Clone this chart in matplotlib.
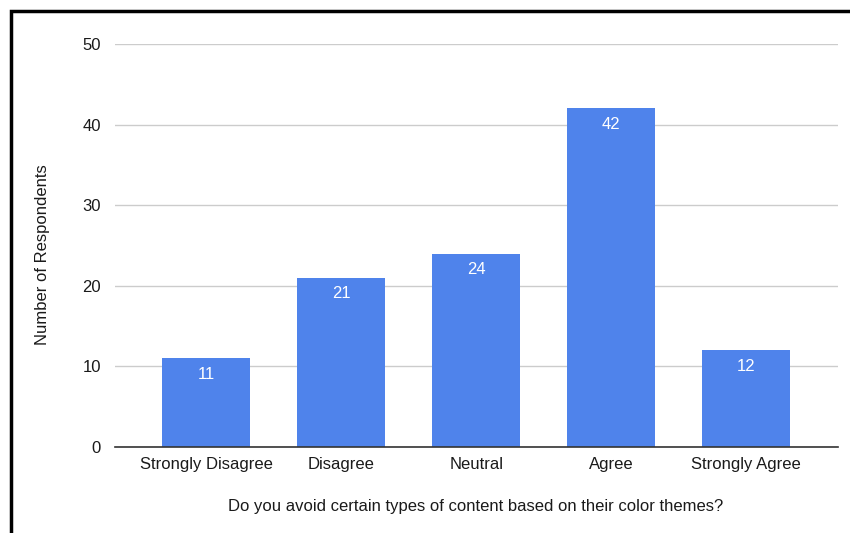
import matplotlib
matplotlib.use("Agg")
import matplotlib.pyplot as plt
import matplotlib.lines as lines

plt.rcParams['font.family'] = ['Liberation Sans', 'DejaVu Sans']

categories = ["Strongly Disagree", "Disagree", "Neutral", "Agree", "Strongly Agree"]
respondents = [11, 21, 24, 42, 12]
y_ticks = [0, 10, 20, 30, 40, 50]

bar_color = '#4f83eb'
text_color = '#1a1a1a'

fig = plt.figure(figsize=(8.5, 5.33), dpi=100)
W, H = 850, 533
# plot area in pixels: left 115, right 838, top 44 (50), bottom 447 (0)
ax = fig.add_axes([115 / W, 1 - 447 / H, (838 - 115) / W, (447 - 44) / H])

x = list(range(len(categories)))
bars = ax.bar(x, respondents, width=0.65, color=bar_color, zorder=3)

for rect, val in zip(bars, respondents):
    ax.annotate(str(val), (rect.get_x() + rect.get_width() / 2, rect.get_height()),
                xytext=(0, -16), textcoords='offset pixels',
                ha='center', va='center', color='white', fontsize=12, zorder=4)

ax.set_xlim(-0.675, len(categories) - 1 + 0.68)
ax.set_ylim(0, 50)
ax.set_yticks(y_ticks)
ax.set_xticks(x)
ax.set_xticklabels(categories)
ax.grid(axis='y', color='#cccccc', linewidth=1, zorder=0)
for side in ['top', 'right', 'left']:
    ax.spines[side].set_visible(False)
ax.spines['bottom'].set_color('#333333')
ax.spines['bottom'].set_linewidth(1.2)
ax.spines['bottom'].set_zorder(5)
ax.tick_params(axis='both', length=0, labelsize=12, labelcolor=text_color)
ax.tick_params(axis='y', pad=10)
ax.tick_params(axis='x', pad=7)

ax.set_ylabel("Number of Respondents", fontsize=12, color=text_color, va='center')
ax.yaxis.set_label_coords((43 - 115) / 723, (447 - 255) / 403)
ax.set_xlabel("Do you avoid certain types of content based on their color themes?",
              fontsize=12, color=text_color, va='center')
ax.xaxis.set_label_coords((476 - 115) / 723, (447 - 507) / 403)

# black frame along the top and left edges
fig.add_artist(lines.Line2D([10.5 / W, 10.5 / W, 1.0], [0.0, 1 - 10.5 / H, 1 - 10.5 / H],
                            color='black', linewidth=2.5, transform=fig.transFigure,
                            solid_capstyle='butt', solid_joinstyle='miter'))

fig.savefig("out.png", dpi=100)
